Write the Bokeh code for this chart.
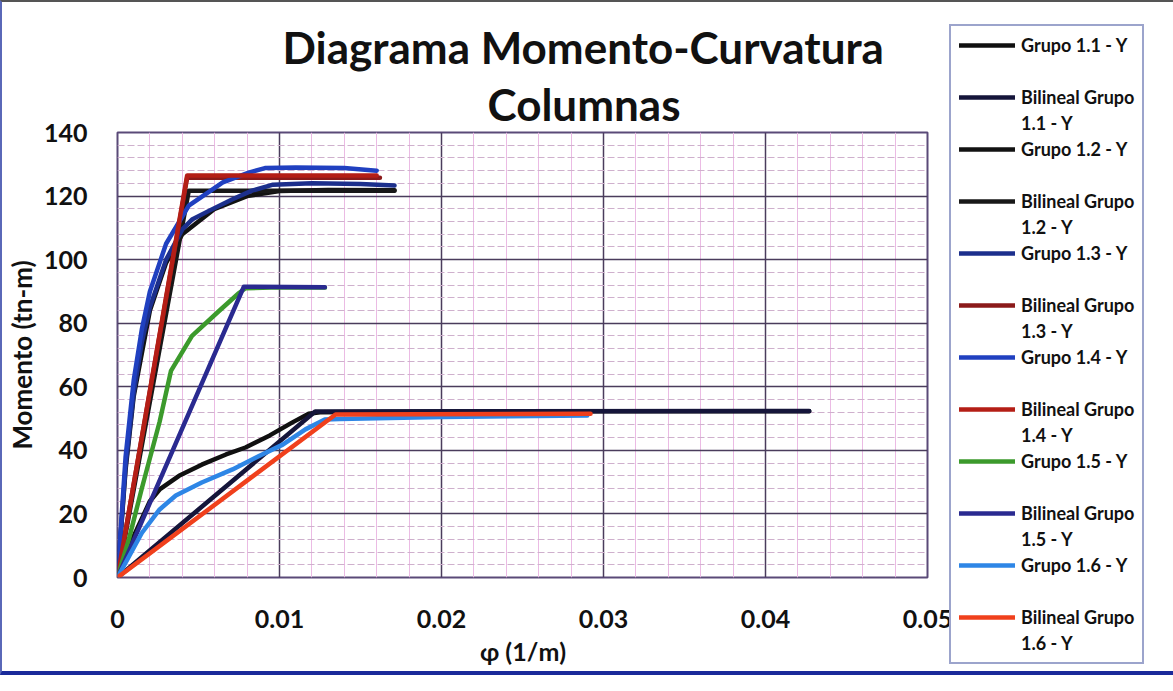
from bokeh.plotting import figure
from bokeh.models import Range1d, FixedTicker, CustomJSTickFormatter, Title, Legend, LegendItem
from bokeh.embed import file_html
from bokeh.resources import INLINE

FONT = "Lato"

# ---------------- data ----------------
x_ticks = [0, 0.01, 0.02, 0.03, 0.04, 0.05]
y_ticks = [0, 20, 40, 60, 80, 100, 120, 140]

phi_g11 = [0, 0.001, 0.002, 0.0026, 0.0038, 0.0052, 0.0067, 0.0079, 0.0094, 0.0108, 0.0118, 0.0125, 0.02, 0.03, 0.0427]
m_g11 = [0, 13, 24, 27.7, 32, 35.5, 38.7, 40.9, 44.7, 48.8, 51.5, 52, 52.2, 52.3, 52.3]

phi_b11 = [0, 0.0122, 0.0427]
m_b11 = [0, 52.2, 52.4]

phi_g12 = [0, 0.0005, 0.001, 0.002, 0.003, 0.004, 0.006, 0.008, 0.010, 0.013, 0.0171]
m_g12 = [0, 34, 57, 84, 99, 108, 116, 120, 121.6, 121.9, 121.8]

phi_b12 = [0, 0.0044, 0.0171]
m_b12 = [0, 121.7, 121.7]

phi_g13 = [0, 0.0005, 0.001, 0.0015, 0.002, 0.003, 0.004, 0.0046, 0.0057, 0.0071, 0.0083, 0.0096, 0.012, 0.015, 0.0171]
m_g13 = [0, 35, 58, 74, 85, 100, 109.5, 112.6, 115.5, 119, 121.7, 123.6, 124, 123.8, 123.3]

phi_b13 = [0, 0.0043, 0.0162]
m_b13 = [0, 125.8, 125.8]

phi_g14 = [0, 0.0005, 0.001, 0.0015, 0.002, 0.003, 0.0044, 0.0065, 0.0081, 0.0091, 0.011, 0.014, 0.016]
m_g14 = [0, 38, 62, 78, 90, 105, 117, 124.3, 127.4, 128.8, 129, 128.8, 128]

phi_b14 = [0, 0.0043, 0.016]
m_b14 = [0, 126.5, 126.5]

phi_g15 = [0, 0.0007, 0.0015, 0.0026, 0.0033, 0.0046, 0.0063, 0.0075, 0.0079, 0.010, 0.0128]
m_g15 = [0, 12, 28, 49, 65, 76, 84, 89.5, 91, 91.3, 91.2]

phi_b15 = [0, 0.0078, 0.0128]
m_b15 = [0, 91.5, 91.3]

phi_g16 = [0, 0.0015, 0.0026, 0.0036, 0.0052, 0.0071, 0.0088, 0.0102, 0.0116, 0.0128, 0.0137, 0.02, 0.029]
m_g16 = [0, 14, 21.4, 25.8, 29.9, 34, 38.4, 41.8, 46.6, 49.7, 49.9, 50.5, 51]

phi_b16 = [0, 0.01346, 0.0292]
m_b16 = [0, 51.3, 51.5]

labels = ["Grupo 1.1 - Y", "Bilineal Grupo 1.1 - Y", "Grupo 1.2 - Y", "Bilineal Grupo 1.2 - Y",
          "Grupo 1.3 - Y", "Bilineal Grupo 1.3 - Y", "Grupo 1.4 - Y", "Bilineal Grupo 1.4 - Y",
          "Grupo 1.5 - Y", "Bilineal Grupo 1.5 - Y", "Grupo 1.6 - Y", "Bilineal Grupo 1.6 - Y"]
colors = ["#101010", "#15153a", "#121212", "#181818",
          "#1c2f8c", "#8b1a1a", "#2040c0", "#b41e16",
          "#3c9a2c", "#2a2a90", "#2e86e6", "#f0401c"]
series = [(phi_g11, m_g11), (phi_b11, m_b11), (phi_g12, m_g12), (phi_b12, m_b12),
          (phi_g13, m_g13), (phi_b13, m_b13), (phi_g14, m_g14), (phi_b14, m_b14),
          (phi_g15, m_g15), (phi_b15, m_b15), (phi_g16, m_g16), (phi_b16, m_b16)]

# ---------------- main chart ----------------
p = figure(frame_width=810, frame_height=445, output_backend="svg", toolbar_location=None,
           x_range=Range1d(0, 0.05), y_range=Range1d(0, 140),
           min_border_left=115, min_border_right=226, min_border_top=130, min_border_bottom=94)
p.background_fill_color = "white"
p.border_fill_color = "white"
p.outline_line_color = "#5a4a78"
p.outline_line_width = 2
p.styles = {"border-top": "2px solid #555555", "border-left": "2px solid #5a68b8",
            "border-bottom": "4px solid #1a2a9a", "border-right": "4px solid #1a2a9a"}

x_minor = [i * 0.002 for i in range(26) if i % 5 != 0]
y_minor = [i * 4 for i in range(36) if i % 5 != 0]
p.xaxis.ticker = FixedTicker(ticks=x_ticks, minor_ticks=x_minor)
p.yaxis.ticker = FixedTicker(ticks=y_ticks, minor_ticks=y_minor)
p.xaxis.formatter = CustomJSTickFormatter(code="return tick.toFixed(2).replace(/\\.?0+$/, '');")

for g in (p.xgrid, p.ygrid):
    g.grid_line_color = "#4a3c5c"
    g.grid_line_width = 1.5
p.xgrid.minor_grid_line_color = "#ebbbe4"
p.xgrid.minor_grid_line_width = 1
p.ygrid.minor_grid_line_color = "#cfb0cd"
p.ygrid.minor_grid_line_width = 1
p.ygrid.minor_grid_line_dash = "7 3"

for ax in (p.xaxis, p.yaxis):
    ax.axis_line_color = None
    ax.major_tick_line_color = None
    ax.minor_tick_line_color = None
    ax.major_label_text_font = FONT
    ax.major_label_text_font_style = "bold"
    ax.major_label_text_font_size = "25px"
    ax.major_label_text_color = "#111111"
    ax.axis_label_text_font = FONT
    ax.axis_label_text_font_style = "bold"
    ax.axis_label_text_color = "#111111"
p.yaxis.major_label_standoff = 24
p.xaxis.major_label_standoff = 26
p.xaxis.axis_label = "φ (1/m)"
p.yaxis.axis_label = "Momento (tn-m)"
p.xaxis.axis_label_text_font_size = "25px"
p.yaxis.axis_label_text_font_size = "26px"
p.xaxis.axis_label_standoff = 5
p.yaxis.axis_label_standoff = 3

renderers = []
for (xs, ys), c in zip(series, colors):
    r = p.line(xs, ys, line_color=c, line_width=4.5, line_join="round", line_cap="round")
    renderers.append(r)

# titles (first added sits closest to the frame)
p.add_layout(Title(text="Columnas", align="left", offset=370, standoff=6,
                   text_font=FONT, text_font_style="bold", text_font_size="44px",
                   text_color="#111111"), "above")
p.add_layout(Title(text="Diagrama Momento-Curvatura", align="left", offset=165, standoff=0,
                   text_font=FONT, text_font_style="bold", text_font_size="44px",
                   text_color="#111111"), "above")

# ---------------- legend ----------------
blank = p.line([], [], line_alpha=0)
items = []
for i, lab in enumerate(labels):
    r = renderers[i]
    if i % 2 == 0:
        items.append(LegendItem(label=lab, renderers=[r]))
        items.append(LegendItem(label=" ", renderers=[blank]))
    else:
        items.append(LegendItem(label="Bilineal Grupo", renderers=[r]))
        items.append(LegendItem(label=lab.replace("Bilineal Grupo ", ""), renderers=[blank]))

legend = Legend(items=items, location=(22, -87), orientation="vertical",
                label_text_font=FONT, label_text_font_style="bold", label_text_font_size="18px",
                label_text_color="#111111", label_height=22, glyph_height=22, glyph_width=56,
                label_standoff=6, spacing=4, padding=8, margin=0,
                border_line_color="#3a4a9a", border_line_width=2,
                background_fill_color="white", background_fill_alpha=1.0)
p.add_layout(legend, "right")

open("out.html", "w").write(file_html(p, INLINE))
